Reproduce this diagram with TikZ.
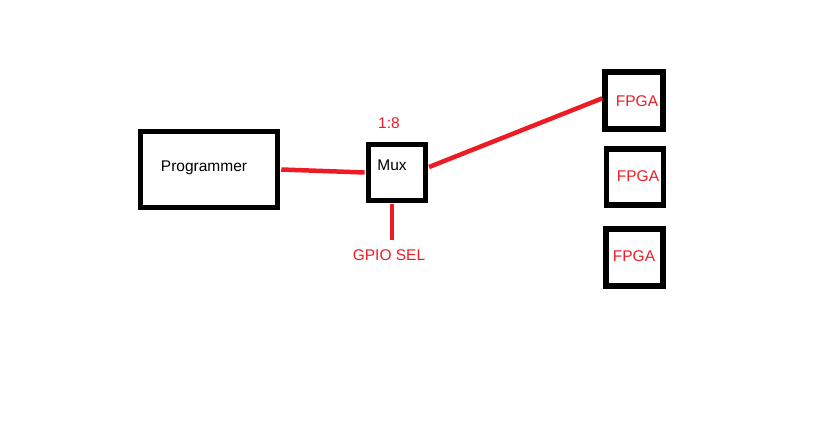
\documentclass[tikz,border=0pt]{standalone}
\usepackage{fontspec}
\setmainfont{Liberation Sans}
\usetikzlibrary{positioning}
\definecolor{paintred}{RGB}{237,28,36}
\tikzset{
  blkbox/.style={draw, line width=5.5pt, inner sep=0pt, fill=white},
  redwire/.style={draw=paintred, line width=4.5pt},
  blktxt/.style={font=\fontsize{15.5}{18}\selectfont},
  redtxt/.style={blktxt, text=paintred}
}
\begin{document}
\begin{tikzpicture}[x=1pt, y=-1pt]
  \useasboundingbox[fill=white] (0,0) rectangle (830,440);
  % programmer and mux
  \node[blkbox, minimum width=137pt, minimum height=76pt] (prog) at (209,169.5) {};
  \node[blktxt] (progtxt) at (204,168) {Programmer};
  \node[blkbox, minimum width=57pt, minimum height=56pt] (mux) at (396.8,172.5) {};
  \node[blktxt] (muxtxt) at (392,165.5) {Mux};
  \node[redtxt] (ratio) at (389,123) {1:8};
  \node[redtxt] (gpio) at (389,255) {GPIO SEL};
  % fpga boxes
  \node[blkbox, minimum width=58pt, minimum height=57pt] (fpga1) at (634,100.3) {};
  \node[redtxt] (fpgatxt1) at (637,101) {FPGA};
  \node[blkbox, minimum width=57pt, minimum height=56pt] (fpga2) at (635,177) {};
  \node[redtxt] (fpgatxt2) at (638,176.5) {FPGA};
  \node[blkbox, minimum width=57pt, minimum height=57pt] (fpga3) at (634.5,257.5) {};
  \node[redtxt] (fpgatxt3) at (634,256.5) {FPGA};
  % wires
  \draw[redwire] ([xshift=1pt]prog.east) -- ([xshift=-1pt]mux.west);
  \draw[redwire] ([xshift=1pt,yshift=5.5pt]mux.east) -- ([yshift=2pt]fpga1.west);
  \draw[redwire, shorten >=6pt] ([xshift=-5pt,yshift=-1pt]mux.south) -- ([xshift=2.8pt]gpio.north);
\end{tikzpicture}
\end{document}
